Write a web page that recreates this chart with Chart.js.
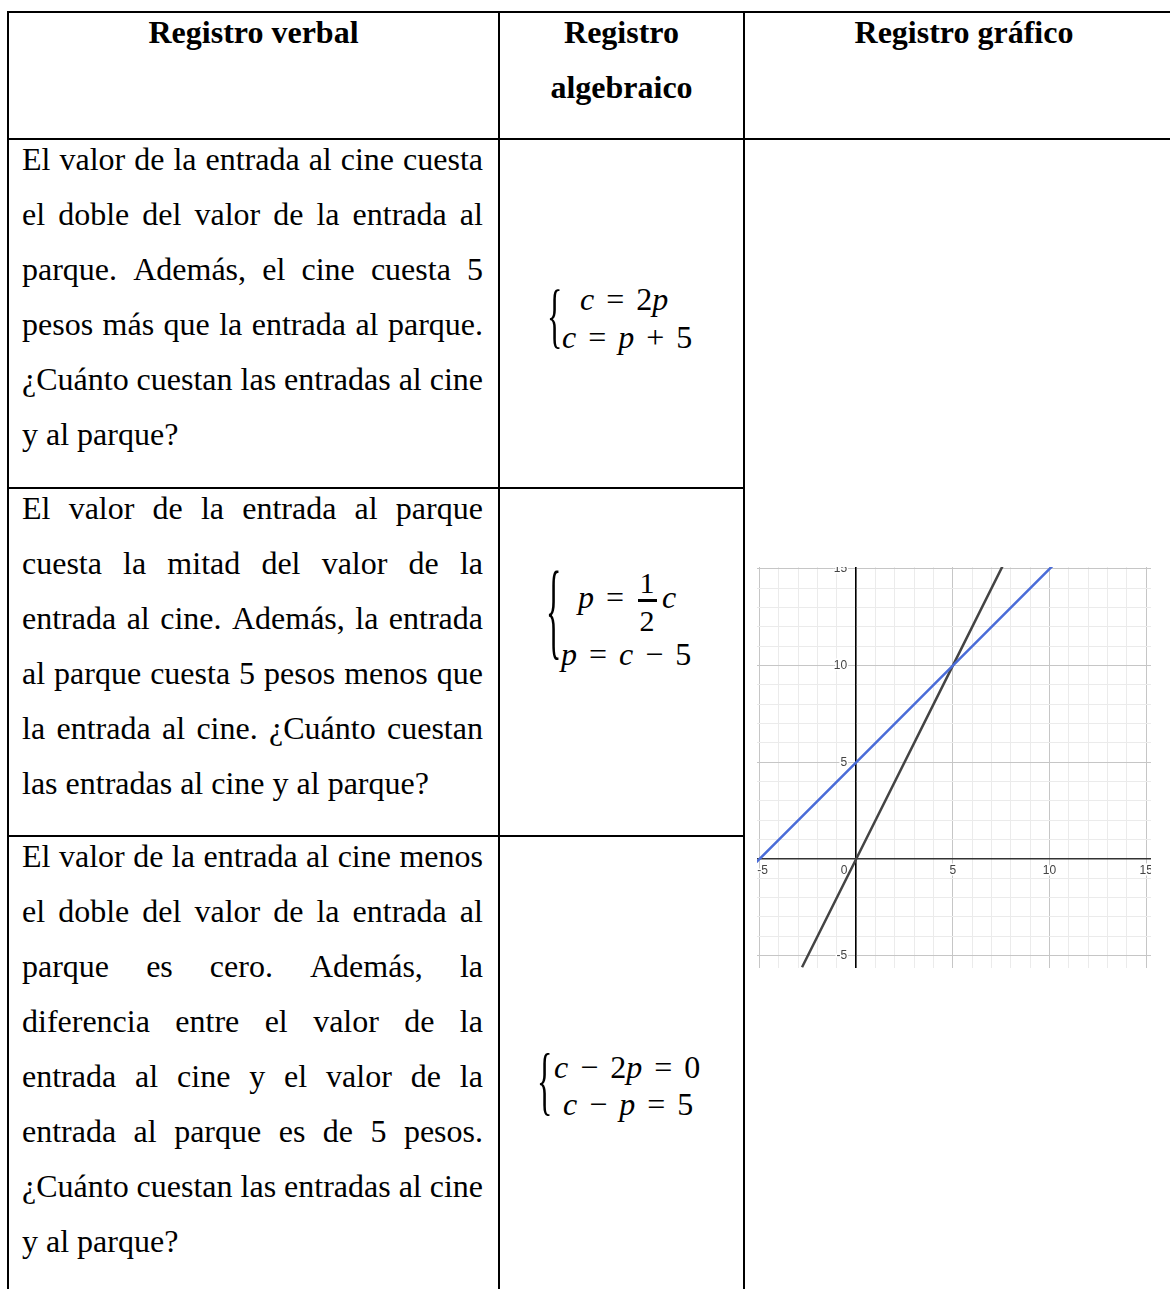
<!DOCTYPE html>
<html lang="es">
<head>
<meta charset="utf-8">
<script src="https://cdn.jsdelivr.net/npm/chart.js@4.4.1/dist/chart.umd.min.js"></script>
<style>
  html, body { margin: 0; padding: 0; background: #fff; }
  body { width: 1170px; height: 1289px; position: relative; overflow: hidden;
         font-family: "Liberation Serif", "Times New Roman", serif; color: #000; }
  .h { position: absolute; background: #000; height: 2px; }
  .v { position: absolute; background: #000; width: 2px; }
  .head { position: absolute; font-weight: bold; font-size: 32px; line-height: 55px; text-align: center; white-space: nowrap; }
  .cell { position: absolute; left: 22px; width: 461px; font-size: 32px; line-height: 55px; }
  .line { display: flex; justify-content: space-between; }
  .line.last { justify-content: flex-start; gap: 8px; }
  .m { position: absolute; font-size: 32px; line-height: 32px; white-space: pre; word-spacing: 4px; }
  .m i { font-style: italic; }
  .brace { position: absolute; font-size: 32px; line-height: 32px; transform-origin: 0 19px; }
  .frac { position: absolute; font-size: 30px; line-height: 30px; width: 20px; text-align: center; }
  #graphBox { position: absolute; left: 757px; top: 567px; width: 394px; height: 401px; }
</style>
</head>
<body>
  <!-- table rules -->
  <div class="h" style="left:7px; top:11px; width:1163px;"></div>
  <div class="h" style="left:7px; top:138px; width:1163px;"></div>
  <div class="h" style="left:7px; top:487px; width:738px;"></div>
  <div class="h" style="left:7px; top:835px; width:738px;"></div>
  <div class="v" style="left:7px; top:11px; height:1278px;"></div>
  <div class="v" style="left:498px; top:11px; height:1278px;"></div>
  <div class="v" style="left:743px; top:11px; height:1278px;"></div>

  <!-- header -->
  <div class="head" style="left:8px; width:491px; top:5px;">Registro verbal</div>
  <div class="head" style="left:499px; width:245px; top:5px;">Registro<br>algebraico</div>
  <div class="head" style="left:744px; width:440px; top:5px;">Registro gráfico</div>

  <!-- verbal -->
  <div class="cell" id="row1" style="top:132px;"></div>
  <div class="cell" id="row2" style="top:481px;"></div>
  <div class="cell" id="row3" style="top:829px;"></div>

  <!-- algebraic -->
  <div class="brace" style="left:547px; top:302px; transform:scaleY(2.26);">{</div>
  <div class="m" style="left:580px; top:283px;"><i>c</i> = 2<i>p</i></div>
  <div class="m" style="left:562px; top:321px;"><i>c</i> = <i>p</i> + 5</div>

  <div class="brace" style="left:546px; top:600px; transform:scaleY(3.4);">{</div>
  <div class="m" style="left:578px; top:581px;"><i>p</i> =</div>
  <div class="frac" style="left:637px; top:568px;">1</div>
  <div class="h" style="left:638px; top:599px; width:19px; height:2.5px;"></div>
  <div class="frac" style="left:637px; top:606px;">2</div>
  <div class="m" style="left:662px; top:581px;"><i>c</i></div>
  <div class="m" style="left:561px; top:638px;"><i>p</i> = <i>c</i> − 5</div>

  <div class="brace" style="left:537px; top:1068px; transform:scaleY(2.37);">{</div>
  <div class="m" style="left:554px; top:1051px;"><i>c</i> − 2<i>p</i> = 0</div>
  <div class="m" style="left:563px; top:1088px;"><i>c</i> − <i>p</i> = 5</div>

  <!-- graphic -->
  <div id="graphBox"><canvas id="graph"></canvas></div>

<script>
// c = 2p (black) and c = p + 5 (blue)
const blackX = [-2.8, 0, 5, 7.6];
const blackY = [-5.6, 0, 10, 15.2];
const blueX = [-5.2, 0, 5, 10.2];
const blueY = [-0.2, 5, 10, 15.2];
const xLabels = [-5, 0, 5, 10, 15];
const yLabels = [-5, 5, 10, 15];

const row1 = [
  "El valor de la entrada al cine cuesta",
  "el doble del valor de la entrada al",
  "parque. Además, el cine cuesta 5",
  "pesos más que la entrada al parque.",
  "¿Cuánto cuestan las entradas al cine",
  "y al parque?",
];
const row2 = [
  "El valor de la entrada al parque",
  "cuesta la mitad del valor de la",
  "entrada al cine. Además, la entrada",
  "al parque cuesta 5 pesos menos que",
  "la entrada al cine. ¿Cuánto cuestan",
  "las entradas al cine y al parque?",
];
const row3 = [
  "El valor de la entrada al cine menos",
  "el doble del valor de la entrada al",
  "parque es cero. Además, la",
  "diferencia entre el valor de la",
  "entrada al cine y el valor de la",
  "entrada al parque es de 5 pesos.",
  "¿Cuánto cuestan las entradas al cine",
  "y al parque?",
];

function fillCell(id, lines) {
  const el = document.getElementById(id);
  lines.forEach((text, i) => {
    const div = document.createElement("div");
    div.className = i === lines.length - 1 ? "line last" : "line";
    text.split(" ").forEach((word) => {
      const span = document.createElement("span");
      span.textContent = word;
      div.appendChild(span);
    });
    el.appendChild(div);
  });
}

fillCell("row1", row1);
fillCell("row2", row2);
fillCell("row3", row3);

const toPoints = (xs, ys) => xs.map((x, i) => ({ x, y: ys[i] }));
const gridColor = (ctx) => (ctx.tick && ctx.tick.value % 5 === 0 ? "#c6c6c6" : "#ebebeb");
const noPadding = (scale) => {
  scale.paddingLeft = 0;
  scale.paddingRight = 0;
  scale.paddingTop = 0;
  scale.paddingBottom = 0;
};
const tickFont = { family: "Liberation Sans", size: 12 };

new Chart(document.getElementById("graph"), {
  type: "scatter",
  data: {
    datasets: [
      { data: toPoints(blueX, blueY), showLine: true, borderColor: "#4a6cd8", borderWidth: 2.5, pointRadius: 0 },
      { data: toPoints(blackX, blackY), showLine: true, borderColor: "#444", borderWidth: 2.5, pointRadius: 0 },
    ],
  },
  options: {
    responsive: true,
    maintainAspectRatio: false,
    animation: false,
    layout: { padding: 0 },
    plugins: { legend: { display: false }, tooltip: { enabled: false } },
    scales: {
      x: {
        type: "linear",
        position: { y: 0 },
        min: -5.13,
        max: 15.25,
        afterFit: noPadding,
        grid: { color: gridColor, lineWidth: 1, drawTicks: false },
        border: { display: true, color: "#333", width: 1.5 },
        ticks: {
          stepSize: 1,
          includeBounds: false,
          autoSkip: false,
          maxRotation: 0,
          padding: 5,
          font: tickFont,
          color: "#444",
          textStrokeColor: "#fff",
          textStrokeWidth: 3,
          callback: (value) => {
            if (value === 0) return "0\u2003\u2003";
            if (value === -5) return "\u2002-5";
            return xLabels.includes(value) ? String(value) : "";
          },
        },
      },
      y: {
        type: "linear",
        position: { x: 0 },
        min: -5.64,
        max: 15.1,
        afterFit: noPadding,
        grid: { color: gridColor, lineWidth: 1, drawTicks: false },
        border: { display: true, color: "#000", width: 1.5 },
        ticks: {
          stepSize: 1,
          includeBounds: false,
          autoSkip: false,
          font: tickFont,
          color: "#444",
          textStrokeColor: "#fff",
          textStrokeWidth: 3,
          callback: (value) => (yLabels.includes(value) ? value + "\u2007\u2009" : ""),
        },
      },
    },
  },
});
</script>
</body>
</html>
